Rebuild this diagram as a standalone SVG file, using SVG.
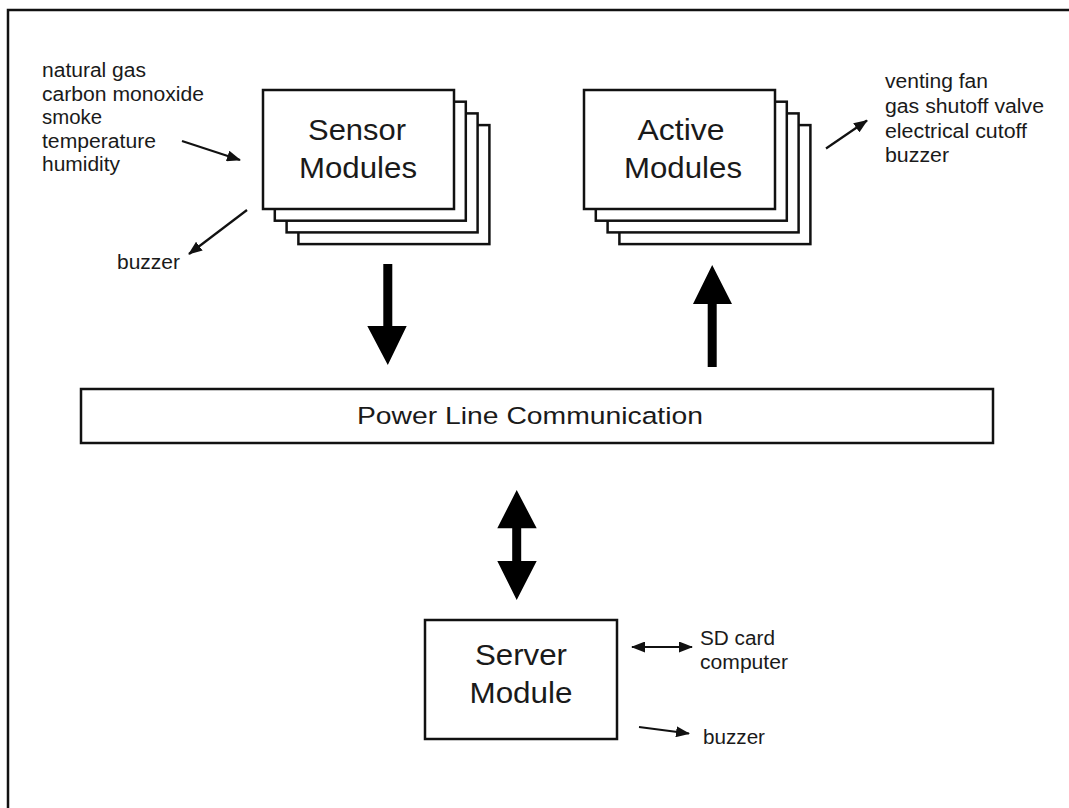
<svg xmlns="http://www.w3.org/2000/svg" width="1069" height="808" viewBox="0 0 1069 808">
  <style>
    .box { fill: #ffffff; stroke: #111111; stroke-width: 2.5; }
    .frame { fill: #ffffff; stroke: #111111; stroke-width: 2.5; }
    .big { font-family: "Liberation Sans", Arial, sans-serif; font-size: 29px; fill: #1a1a1a; text-anchor: middle; }
    .mid { font-family: "Liberation Sans", Arial, sans-serif; font-size: 24.5px; fill: #1a1a1a; text-anchor: middle; }
    .small { font-family: "Liberation Sans", Arial, sans-serif; font-size: 19.5px; fill: #1a1a1a; }
    .thin { stroke: #111111; stroke-width: 2.2; fill: none; }
    .thick { fill: #000000; stroke: none; }
  </style>
  <defs>
    <marker id="head" viewBox="0 0 14 11" refX="13" refY="5.5" markerWidth="14" markerHeight="11" markerUnits="userSpaceOnUse" orient="auto-start-reverse">
      <path d="M0,0 L14,5.5 L0,11 z" fill="#111111"/>
    </marker>
  </defs>

  <!-- outer border -->
  <rect class="frame" x="8" y="10" width="1100" height="850"/>

  <!-- stacked sensor modules -->
  <g id="sensor-modules">
    <rect class="box" x="298.4" y="125.1" width="191" height="119"/>
    <rect class="box" x="286.6" y="113.4" width="191" height="119"/>
    <rect class="box" x="274.8" y="101.7" width="191" height="119"/>
    <rect class="box" x="263" y="90" width="191" height="119"/>
    <text class="big" x="357" y="140" textLength="98" lengthAdjust="spacingAndGlyphs">Sensor</text>
    <text class="big" x="358" y="177.5" textLength="118" lengthAdjust="spacingAndGlyphs">Modules</text>
  </g>

  <!-- stacked active modules -->
  <g id="active-modules">
    <rect class="box" x="619.4" y="125.1" width="191" height="119"/>
    <rect class="box" x="607.6" y="113.4" width="191" height="119"/>
    <rect class="box" x="595.8" y="101.7" width="191" height="119"/>
    <rect class="box" x="584" y="90" width="191" height="119"/>
    <text class="big" x="681" y="140" textLength="87" lengthAdjust="spacingAndGlyphs">Active</text>
    <text class="big" x="683" y="177.5" textLength="118" lengthAdjust="spacingAndGlyphs">Modules</text>
  </g>

  <!-- power line communication bus -->
  <g id="plc">
    <rect class="box" x="81" y="389" width="912" height="54"/>
    <text class="mid" x="530" y="423.5" textLength="346" lengthAdjust="spacingAndGlyphs">Power Line Communication</text>
  </g>

  <!-- server module -->
  <g id="server-module">
    <rect class="box" x="425" y="620" width="192" height="119"/>
    <text class="big" x="521" y="665" font-size="27" textLength="92" lengthAdjust="spacingAndGlyphs">Server</text>
    <text class="big" x="521" y="703" font-size="27" textLength="103" lengthAdjust="spacingAndGlyphs">Module</text>
  </g>

  <!-- sensed inputs -->
  <g id="sensor-inputs">
    <text class="small" x="42" y="77" textLength="104" lengthAdjust="spacingAndGlyphs">natural gas</text>
    <text class="small" x="42" y="100.5" textLength="162" lengthAdjust="spacingAndGlyphs">carbon monoxide</text>
    <text class="small" x="42" y="124" textLength="60" lengthAdjust="spacingAndGlyphs">smoke</text>
    <text class="small" x="42" y="148" textLength="114" lengthAdjust="spacingAndGlyphs">temperature</text>
    <text class="small" x="42" y="171" textLength="78" lengthAdjust="spacingAndGlyphs">humidity</text>
  </g>
  <g id="sensor-buzzer">
    <text class="small" x="117" y="268.5" textLength="63" lengthAdjust="spacingAndGlyphs">buzzer</text>
  </g>

  <!-- actuated outputs -->
  <g id="active-outputs">
    <text class="small" x="885" y="88" textLength="103" lengthAdjust="spacingAndGlyphs">venting fan</text>
    <text class="small" x="885" y="112.5" textLength="159" lengthAdjust="spacingAndGlyphs">gas shutoff valve</text>
    <text class="small" x="885" y="137.5" textLength="142" lengthAdjust="spacingAndGlyphs">electrical cutoff</text>
    <text class="small" x="885" y="162" textLength="64" lengthAdjust="spacingAndGlyphs">buzzer</text>
  </g>

  <!-- server peripherals -->
  <g id="server-storage">
    <text class="small" x="700" y="645" font-size="20" textLength="75" lengthAdjust="spacingAndGlyphs">SD card</text>
    <text class="small" x="700" y="668.5" font-size="20" textLength="88" lengthAdjust="spacingAndGlyphs">computer</text>
  </g>
  <g id="server-buzzer">
    <text class="small" x="703" y="743.5" font-size="20" textLength="62" lengthAdjust="spacingAndGlyphs">buzzer</text>
  </g>

  <!-- connectors -->
  <g id="connectors">
    <line class="thin" x1="182" y1="141" x2="240" y2="160" marker-end="url(#head)"/>
    <line class="thin" x1="247" y1="210" x2="189" y2="254" marker-end="url(#head)"/>
    <line class="thin" x1="826" y1="148.5" x2="867" y2="120.5" marker-end="url(#head)"/>
    <line class="thin" x1="632" y1="647" x2="692" y2="647" marker-start="url(#head)" marker-end="url(#head)"/>
    <line class="thin" x1="639" y1="727" x2="689" y2="733.5" marker-end="url(#head)"/>

    <!-- sensor modules to bus -->
    <path class="thick" d="M383.3,264 H392.3 V326 H406.7 L387.8,365 L367.3,326 H383.3 Z"/>
    <!-- bus to active modules -->
    <path class="thick" d="M707.7,367 H716.7 V304 H732 L712.2,265 L693,304 H707.7 Z"/>
    <!-- bus to/from server -->
    <path class="thick" d="M512.2,528.3 H497.3 L516.7,490 L536.7,528.3 H521.2 V561 H536.7 L516.7,600 L497.3,561 H512.2 Z"/>
  </g>
</svg>
